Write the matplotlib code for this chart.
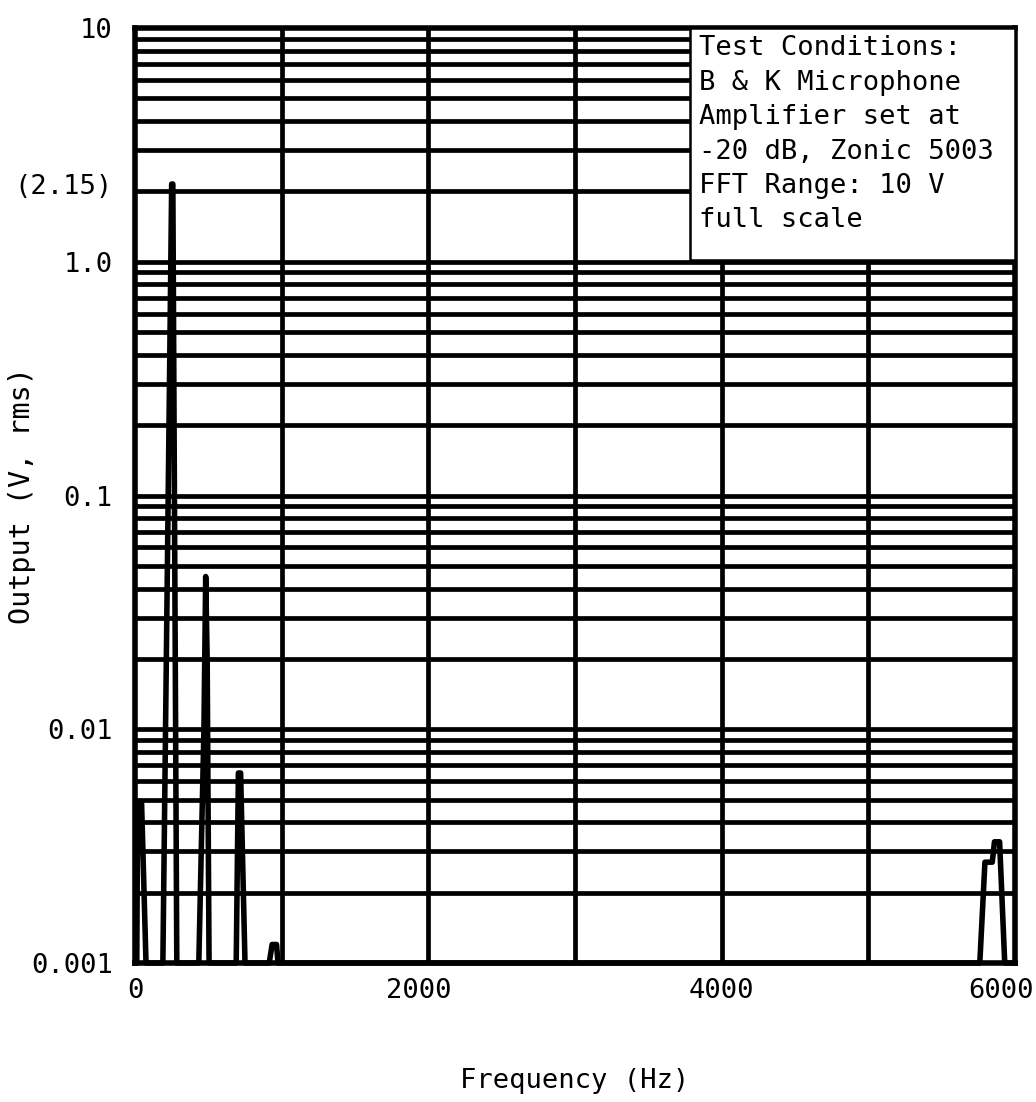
import matplotlib
matplotlib.use("Agg")
import matplotlib.pyplot as plt
from matplotlib.patches import Rectangle
from matplotlib.ticker import FixedLocator, NullFormatter, LogLocator
from matplotlib.transforms import ScaledTranslation

# ---- data ----
freq_hz = [0, 12, 18, 45, 75,
           190, 235, 250, 258, 265, 285,
           435, 470, 482, 492, 505,
           690, 705, 720, 750,
           915, 935, 965, 975,
           5760, 5795, 5845, 5860, 5895, 5930, 6000]
output_v = [0.001, 0.001, 0.0048, 0.0048, 0.001,
            0.001, 0.3, 2.15, 2.15, 0.3, 0.001,
            0.001, 0.01, 0.045, 0.02, 0.001,
            0.001, 0.0065, 0.0065, 0.001,
            0.001, 0.0012, 0.0012, 0.001,
            0.001, 0.0027, 0.0027, 0.0033, 0.0033, 0.001, 0.001]

x_ticks = [0, 2000, 4000, 6000]
x_tick_labels = ["0", "2000", "4000", "6000"]
x_grid = [1000, 2000, 3000, 4000, 5000]
y_ticks = [0.001, 0.01, 0.1, 1.0, 2.15, 10]
y_tick_labels = ["0.001", "0.01", "0.1", "1.0", "(2.15)", "10"]

box_text = ("Test Conditions:\nB & K Microphone\nAmplifier set at\n"
            "-20 dB, Zonic 5003\nFFT Range: 10 V\nfull scale")

plt.rcParams['font.family'] = ['DejaVu Sans Mono']
FS = 19.5
LW = 3.4

fig = plt.figure(figsize=(10.36, 11.02), dpi=100)
ax = fig.add_axes([135/1036, 1 - 963/1102, 880/1036, 935/1102])
ax.set_yscale('log')
ax.set_xlim(0, 6000)
ax.set_ylim(0.001, 10)

ax.set_xticks(x_ticks)
ax.set_xticklabels(x_tick_labels, fontsize=FS)
ax.set_yticks(y_ticks)
ax.set_yticklabels(y_tick_labels, fontsize=FS)
ax.yaxis.set_minor_locator(LogLocator(base=10, subs=range(1, 10)))
ax.yaxis.set_minor_formatter(NullFormatter())

# grid lines
for v in x_grid:
    ax.axvline(v, color='black', lw=LW, zorder=1)
for e in range(-3, 1):
    for s in range(1, 10):
        val = (10.0 ** e) * s
        if 0.001 < val < 10:
            ax.axhline(val, color='black', lw=LW, zorder=1)

ax.tick_params(which='both', length=0)
ax.tick_params(axis='y', pad=16)
ax.tick_params(axis='x', pad=11)
for sp in ax.spines.values():
    sp.set_linewidth(4.0)
    sp.set_zorder(4)

# shift last x tick label slightly left, like the reference
lbls = ax.get_xticklabels()
lbls[-1].set_transform(lbls[-1].get_transform() +
                       ScaledTranslation(-0.14, 0, fig.dpi_scale_trans))
lbls[1].set_transform(lbls[1].get_transform() +
                      ScaledTranslation(-0.10, 0, fig.dpi_scale_trans))

ax.plot(freq_hz, output_v, color='black', lw=4.0, zorder=3, clip_on=False,
        solid_joinstyle='round')

# annotation box
ax.add_patch(Rectangle((0.631, 0.752), 0.369, 0.248, transform=ax.transAxes,
                       facecolor='white', edgecolor='black', lw=1.8, zorder=5))
ax.text(0.641, 0.992, box_text, transform=ax.transAxes, ha='left', va='top',
        fontsize=FS, linespacing=1.42, zorder=6)

ax.set_xlabel("Frequency (Hz)", fontsize=FS)
ax.set_ylabel("Output (V, rms)", fontsize=20.5)
ax.xaxis.set_label_coords(0.5, -0.112)
ax.yaxis.set_label_coords(-0.113, 0.5)

fig.savefig("out.png", dpi=100, facecolor='white')
